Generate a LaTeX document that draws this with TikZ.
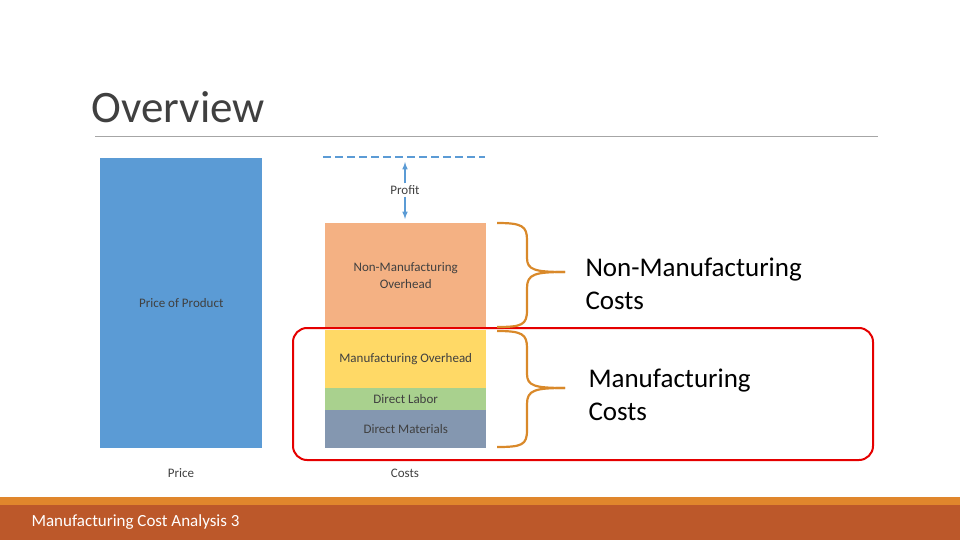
\documentclass[tikz,border=0pt]{standalone}
\usepackage{fontspec}
\setmainfont{Carlito}
\definecolor{pblue}{HTML}{5B9BD5}
\definecolor{norange}{HTML}{F4B183}
\definecolor{myellow}{HTML}{FFD966}
\definecolor{dgreen}{HTML}{A9D18E}
\definecolor{dgray}{HTML}{8497B0}
\definecolor{brc}{HTML}{D9892A}
\definecolor{foot}{HTML}{BC582A}
\definecolor{footl}{HTML}{E0862C}
\definecolor{txt}{HTML}{404040}
\tikzset{bar/.style={draw=none,inner sep=0pt,text=txt,font=\fontsize{13}{17}\selectfont,align=center},
brace/.style={draw=brc,line width=2.2pt},
big/.style={font=\fontsize{27}{33}\selectfont,align=left,anchor=west,text=black}}
\begin{document}
\begin{tikzpicture}[x=1pt,y=-1pt]
\useasboundingbox (0,0) rectangle (960,540);
\fill[footl] (0,497) rectangle (960,505);
\fill[foot] (0,505) rectangle (960,540);
\node[anchor=west,text=white,font=\fontsize{17}{20}\selectfont] (ft) at (28,522) {Manufacturing Cost Analysis 3};
\node[anchor=west,text=txt,font=\fontsize{45}{50}\selectfont] (ti) at (88,107) {Overview};
\draw[gray!70,line width=0.6pt] (95,136) -- (878,136);
\node[bar,fill=pblue,minimum width=162pt,minimum height=290pt,anchor=north west] (pr) at (100,158) {Price of Product};
\node[text=txt,font=\fontsize{13}{17}\selectfont] (pl) at (181,473) {Price};
\node[bar,fill=norange,minimum width=161pt,minimum height=104pt,anchor=north west] (nm) at (325,223) {Non-Manufacturing\\Overhead};
\node[bar,fill=myellow,minimum width=161pt,minimum height=58pt,anchor=north west] (mo) at (325,330) {Manufacturing Overhead};
\node[bar,fill=dgreen,minimum width=161pt,minimum height=22pt,anchor=north west] (dl) at (325,388) {Direct Labor};
\node[bar,fill=dgray,minimum width=161pt,minimum height=38pt,anchor=north west] (dm) at (325,410) {Direct Materials};
\node[text=txt,font=\fontsize{13}{17}\selectfont] (cl) at (405,473) {Costs};
\coordinate (d1) at (323,157); \coordinate (d2) at (485,157);
\draw[pblue,line width=1.5pt,dash pattern=on 8pt off 4pt] (d1) -- (d2);
\node[text=txt,font=\fontsize{13}{17}\selectfont,inner sep=2pt] (pf) at (405,190) {Profit};
\draw[pblue,line width=1.5pt,-latex] (pf.north) -- (405,162);
\draw[pblue,line width=1.5pt,-latex] (pf.south) -- (405,219);
\node[draw=red!90!black,line width=2pt,rounded corners=14pt,minimum width=580pt,minimum height=132pt,anchor=north west] (rr) at (292,327) {};
\draw[brace] (497,223) .. controls (522,223) and (527,226) .. (527,240) -- (527,258) .. controls (527,270) and (535,272) .. (565,272);
\draw[brace] (565,272) .. controls (535,272) and (527,274) .. (527,288) -- (527,310) .. controls (527,325) and (522,327) .. (497,327);
\draw[brace] (497,331) .. controls (522,331) and (527,334) .. (527,348) -- (527,374) .. controls (527,386) and (535,388) .. (565,388);
\draw[brace] (565,388) .. controls (535,388) and (527,390) .. (527,404) -- (527,430) .. controls (527,445) and (522,447) .. (497,447);
\node[big] (t1) at (582,284) {Non-Manufacturing\\Costs};
\node[big] (t2) at (585,395) {Manufacturing\\Costs};
\end{tikzpicture}
\end{document}
